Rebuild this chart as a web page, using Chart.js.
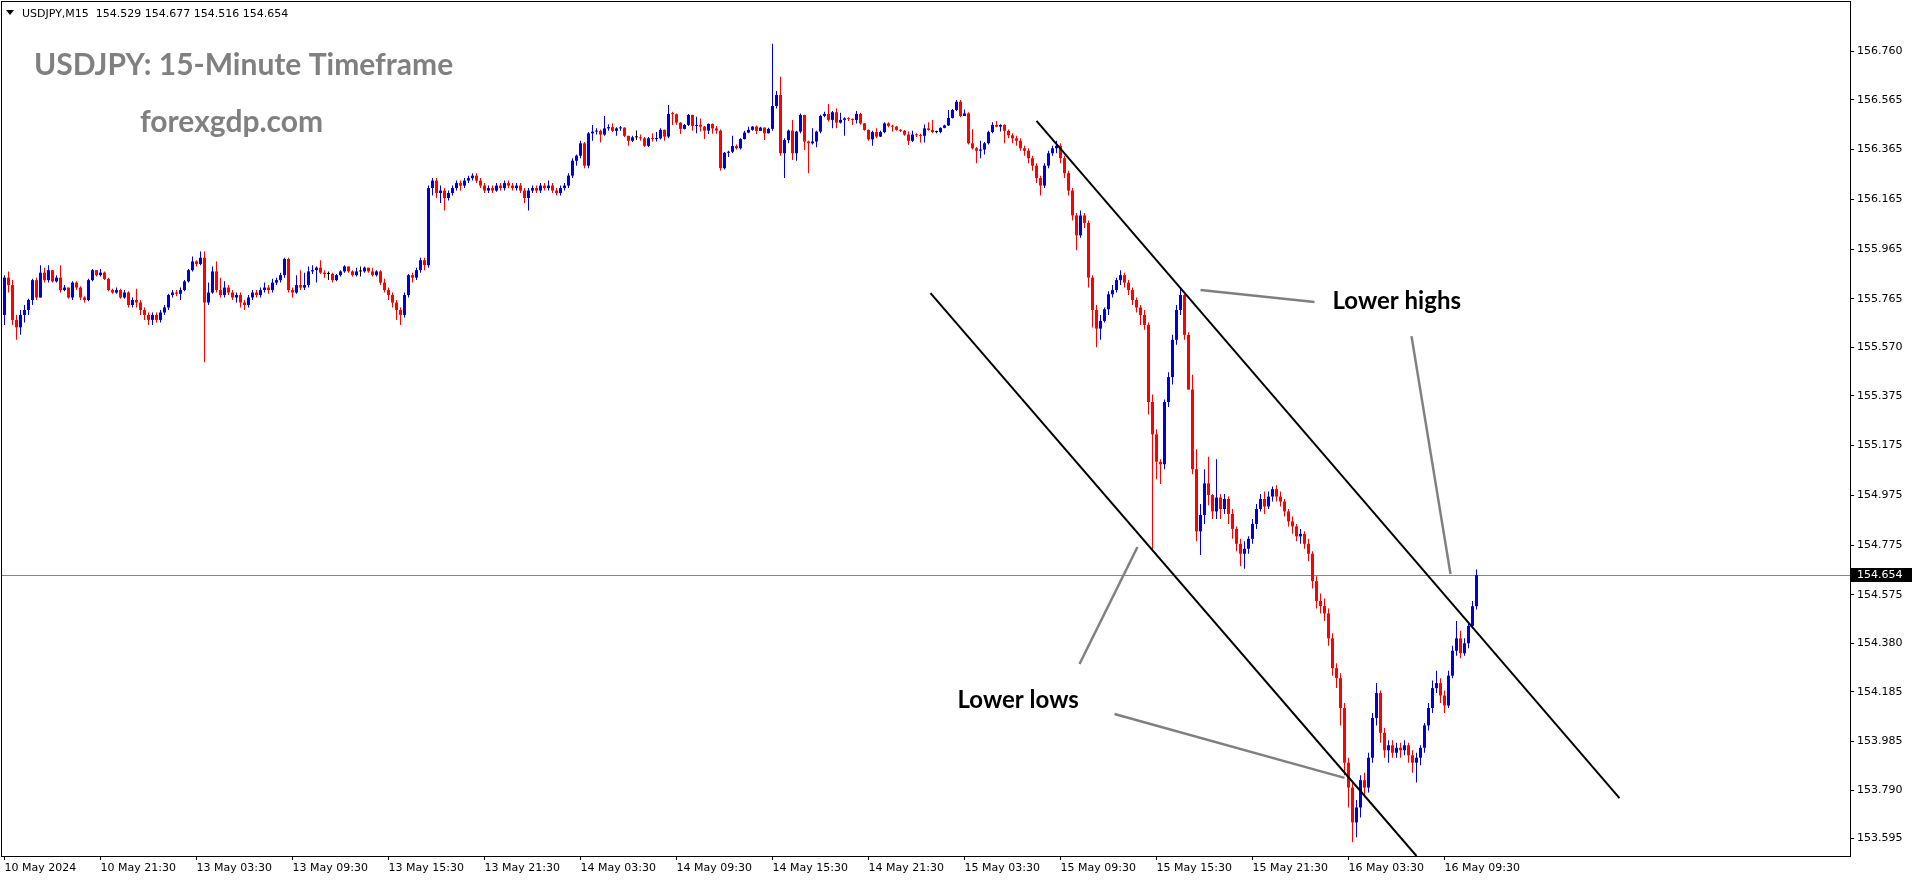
<!DOCTYPE html>
<html>
<head>
<meta charset="utf-8">
<title>USDJPY M15</title>
<script src="https://cdn.jsdelivr.net/npm/chart.js@4.4.1/dist/chart.umd.min.js"></script>
<style>
  html, body { margin: 0; padding: 0; background: #fff; }
  #wrap { width: 1914px; height: 884px; position: relative; }
</style>
</head>
<body>
<div id="wrap"><canvas id="chart"></canvas></div>
<script>
// 15-minute bars, 10 May 15:30 .. 16 May 11:30 (open = previous close)
const firstOpen = 155.70;
const closes = [
  155.85,155.82,155.68,155.65,155.70,155.72,155.76,155.84,155.77,155.87,
  155.84,155.88,155.835,155.85,155.80,155.81,155.77,155.83,155.81,155.77,
  155.76,155.84,155.88,155.86,155.87,155.845,155.80,155.79,155.80,155.77,
  155.79,155.74,155.76,155.75,155.72,155.70,155.68,155.70,155.68,155.71,
  155.73,155.78,155.79,155.785,155.80,155.835,155.88,155.915,155.905,155.93,
  155.75,155.79,155.875,155.80,155.78,155.81,155.79,155.77,155.78,155.75,
  155.74,155.77,155.79,155.78,155.80,155.81,155.80,155.83,155.84,155.86,
  155.925,155.80,155.79,155.82,155.81,155.82,155.875,155.88,155.89,155.87,
  155.865,155.865,155.84,155.86,155.875,155.895,155.875,155.86,155.875,155.875,
  155.89,155.875,155.86,155.875,155.83,155.80,155.78,155.75,155.72,155.70,
  155.78,155.86,155.85,155.88,155.92,155.90,156.21,156.24,156.19,156.20,
  156.17,156.19,156.21,156.23,156.22,156.24,156.25,156.26,156.24,156.22,
  156.20,156.21,156.20,156.22,156.21,156.23,156.22,156.21,156.22,156.20,
  156.17,156.20,156.21,156.20,156.22,156.21,156.22,156.20,156.19,156.21,
  156.22,156.26,156.32,156.34,156.39,156.30,156.43,156.437,156.44,156.425,
  156.45,156.455,156.44,156.45,156.453,156.42,156.40,156.414,156.414,156.41,
  156.38,156.41,156.407,156.41,156.444,156.417,156.508,156.507,156.473,156.448,
  156.464,156.504,156.46,156.464,156.457,156.441,156.468,156.45,156.441,156.29,
  156.352,156.356,156.379,156.37,156.407,156.433,156.444,156.457,156.44,156.453,
  156.43,156.448,156.54,156.584,156.35,156.403,156.441,156.35,156.437,156.504,
  156.397,156.39,156.397,156.437,156.50,156.508,156.484,156.515,156.473,156.484,
  156.49,156.487,156.484,156.508,156.47,156.444,156.406,156.435,156.417,156.435,
  156.47,156.46,156.457,156.444,156.44,156.425,156.40,156.425,156.422,156.42,
  156.45,156.444,156.435,156.435,156.452,156.462,156.492,156.524,156.557,156.50,
  156.51,156.39,156.37,156.36,156.365,156.39,156.435,156.464,156.457,156.464,
  156.44,156.422,156.41,156.40,156.37,156.36,156.33,156.30,156.25,156.22,
  156.30,156.35,156.37,156.38,156.33,156.27,156.20,156.10,156.02,156.10,
  156.07,155.85,155.72,155.645,155.676,155.723,155.783,155.80,155.84,155.86,
  155.83,155.80,155.76,155.73,155.70,155.66,155.35,155.22,155.11,155.10,
  155.35,155.45,155.60,155.72,155.78,155.62,155.40,155.08,154.83,154.896,
  155.023,154.976,154.91,154.966,154.92,154.96,154.90,154.84,154.78,154.74,
  154.76,154.80,154.86,154.92,154.96,154.93,154.97,155.00,154.97,154.95,
  154.91,154.87,154.85,154.81,154.82,154.78,154.74,154.63,154.55,154.53,
  154.50,154.40,154.28,154.24,154.12,153.90,153.80,153.66,153.72,153.83,
  153.80,153.92,154.08,154.18,154.02,153.95,153.97,153.94,153.96,153.95,
  153.97,153.93,153.90,153.92,153.96,154.05,154.12,154.20,154.22,154.17,
  154.13,154.25,154.35,154.40,154.34,154.38,154.45,154.529,154.654
];
const highs = [
  155.86,155.875,155.84,155.70,155.72,155.74,155.765,155.845,155.85,155.90,
  155.89,155.90,155.88,155.86,155.90,155.82,155.81,155.835,155.835,155.815,
  155.775,155.845,155.885,155.88,155.885,155.875,155.85,155.805,155.81,155.805,
  155.80,155.795,155.77,155.805,155.76,155.73,155.71,155.71,155.71,155.72,
  155.74,155.785,155.80,155.80,155.81,155.84,155.885,155.935,155.92,155.955,
  155.955,155.83,155.895,155.915,155.85,155.835,155.82,155.80,155.79,155.79,
  155.76,155.78,155.80,155.80,155.81,155.83,155.82,155.845,155.85,155.87,
  155.93,155.93,155.81,155.86,155.88,155.87,155.895,155.90,155.895,155.92,
  155.88,155.875,155.87,155.865,155.88,155.90,155.895,155.88,155.89,155.895,
  155.895,155.89,155.89,155.88,155.88,155.845,155.81,155.79,155.76,155.73,
  155.79,155.865,155.87,155.89,155.93,155.93,156.22,156.25,156.25,156.22,
  156.21,156.20,156.22,156.24,156.24,156.25,156.26,156.27,156.27,156.25,
  156.23,156.22,156.22,156.23,156.23,156.24,156.24,156.23,156.23,156.23,
  156.21,156.21,156.22,156.22,156.23,156.23,156.24,156.23,156.21,156.22,
  156.23,156.27,156.33,156.345,156.40,156.395,156.435,156.464,156.45,156.445,
  156.50,156.467,156.47,156.455,156.46,156.455,156.42,156.42,156.441,156.425,
  156.415,156.415,156.43,156.435,156.45,156.445,156.544,156.517,156.51,156.475,
  156.468,156.508,156.505,156.497,156.49,156.46,156.47,156.47,156.46,156.445,
  156.355,156.36,156.42,156.385,156.41,156.44,156.457,156.46,156.462,156.457,
  156.455,156.452,156.79,156.60,156.658,156.41,156.445,156.484,156.44,156.51,
  156.505,156.40,156.45,156.44,156.505,156.517,156.548,156.52,156.53,156.513,
  156.495,156.495,156.49,156.52,156.513,156.472,156.445,156.44,156.45,156.44,
  156.475,156.475,156.465,156.46,156.447,156.443,156.437,156.44,156.43,156.428,
  156.466,156.475,156.484,156.44,156.455,156.465,156.524,156.528,156.564,156.564,
  156.526,156.515,156.446,156.375,156.40,156.395,156.44,156.475,156.48,156.467,
  156.467,156.445,156.43,156.42,156.41,156.38,156.37,156.34,156.31,156.26,
  156.31,156.36,156.38,156.40,156.39,156.34,156.28,156.21,156.11,156.12,
  156.11,156.08,155.86,155.74,155.70,155.73,155.795,155.82,155.85,155.88,
  155.87,155.84,155.81,155.77,155.74,155.72,155.67,155.38,155.24,155.12,
  155.36,155.47,155.62,155.74,155.81,155.79,155.63,155.46,155.16,154.94,
  155.08,155.13,154.98,155.12,154.98,154.98,154.97,154.92,154.85,154.80,
  154.79,154.81,154.88,154.94,154.98,154.99,154.99,155.01,155.015,154.99,
  154.96,154.92,154.89,154.86,154.84,154.83,154.80,154.75,154.65,154.58,
  154.56,154.52,154.42,154.30,154.26,154.14,153.92,153.82,153.75,153.85,
  153.86,153.94,154.10,154.22,154.19,154.04,153.99,153.99,153.98,153.98,
  153.99,153.98,153.95,153.94,153.97,154.06,154.14,154.23,154.27,154.24,
  154.19,154.27,154.37,154.47,154.43,154.40,154.46,154.55,154.677
];
const lows = [
  155.66,155.79,155.66,155.60,155.62,155.67,155.70,155.74,155.76,155.77,
  155.83,155.83,155.83,155.83,155.79,155.795,155.765,155.76,155.80,155.76,
  155.75,155.755,155.835,155.855,155.855,155.84,155.795,155.785,155.785,155.765,
  155.765,155.73,155.73,155.73,155.70,155.68,155.66,155.66,155.67,155.67,
  155.70,155.72,155.77,155.775,155.76,155.795,155.83,155.875,155.895,155.90,
  155.51,155.74,155.785,155.79,155.77,155.77,155.78,155.76,155.75,155.73,
  155.72,155.73,155.76,155.77,155.77,155.79,155.785,155.79,155.82,155.83,
  155.85,155.79,155.77,155.785,155.80,155.80,155.81,155.865,155.83,155.865,
  155.85,155.84,155.83,155.835,155.855,155.87,155.87,155.855,155.855,155.855,
  155.87,155.87,155.855,155.855,155.82,155.79,155.76,155.73,155.68,155.66,
  155.69,155.77,155.83,155.84,155.87,155.88,155.89,156.18,156.17,156.15,
  156.12,156.16,156.18,156.20,156.20,156.21,156.23,156.24,156.23,156.21,
  156.19,156.19,156.19,156.195,156.20,156.20,156.21,156.20,156.20,156.19,
  156.15,156.12,156.19,156.19,156.19,156.20,156.20,156.19,156.18,156.18,
  156.20,156.21,156.25,156.30,156.33,156.29,156.29,156.40,156.425,156.393,
  156.42,156.44,156.435,156.42,156.44,156.415,156.38,156.395,156.403,156.40,
  156.375,156.375,156.397,156.397,156.405,156.40,156.41,156.464,156.465,156.427,
  156.445,156.46,156.44,156.43,156.437,156.407,156.427,156.428,156.428,156.28,
  156.285,156.335,156.35,156.365,156.365,156.405,156.43,156.44,156.427,156.44,
  156.403,156.43,156.44,156.53,156.34,156.25,156.39,156.323,156.32,156.43,
  156.363,156.27,156.385,156.374,156.43,156.495,156.478,156.45,156.45,156.47,
  156.42,156.48,156.464,156.47,156.465,156.44,156.40,156.38,156.41,156.415,
  156.43,156.455,156.437,156.44,156.435,156.42,156.383,156.395,156.415,156.393,
  156.393,156.44,156.43,156.43,156.43,156.45,156.46,156.49,156.52,156.495,
  156.50,156.385,156.365,156.31,156.33,156.345,156.385,156.43,156.455,156.437,
  156.39,156.41,156.39,156.38,156.36,156.34,156.31,156.28,156.23,156.18,
  156.21,156.29,156.34,156.35,156.31,156.25,156.18,156.08,155.96,156.01,
  156.05,155.81,155.65,155.57,155.60,155.67,155.70,155.77,155.79,155.82,
  155.81,155.78,155.74,155.71,155.66,155.64,155.30,154.75,155.04,155.02,
  155.08,155.33,155.42,155.58,155.70,155.60,155.40,155.06,154.79,154.735,
  154.86,154.935,154.88,154.88,154.88,154.90,154.86,154.80,154.75,154.69,
  154.68,154.74,154.78,154.84,154.91,154.90,154.92,154.95,154.95,154.93,
  154.89,154.85,154.82,154.79,154.78,154.76,154.71,154.60,154.52,154.50,
  154.47,154.37,154.25,154.20,154.05,153.85,153.72,153.58,153.60,153.68,
  153.76,153.78,153.90,154.05,153.98,153.92,153.90,153.92,153.92,153.92,
  153.93,153.90,153.86,153.82,153.89,153.94,154.03,154.10,154.18,154.14,
  154.10,154.12,154.24,154.33,154.32,154.33,154.36,154.44,154.516
];

// time axis: one label every 24 bars, starting at bar 0
const timeLabels = [
  '10 May 2024','10 May 21:30','13 May 03:30','13 May 09:30','13 May 15:30',
  '13 May 21:30','14 May 03:30','14 May 09:30','14 May 15:30','14 May 21:30',
  '15 May 03:30','15 May 09:30','15 May 15:30','15 May 21:30','16 May 03:30',
  '16 May 09:30'
];
const labelEvery = 24;
const priceTicks = [
  156.760,156.565,156.365,156.165,155.965,155.765,155.570,155.375,155.175,
  154.975,154.775,154.575,154.380,154.185,153.985,153.790,153.595
];
const priceMin = 153.525;
const priceMax = 156.958;

const headerText = 'USDJPY,M15  154.529 154.677 154.516 154.654';
const titleText = 'USDJPY: 15-Minute Timeframe';
const siteText = 'forexgdp.com';

// drawn objects, in [bar, price]
const upperChannel = [[258, 156.480], [403.75, 153.758]];
const lowerChannel = [[231.5, 155.788], [353, 153.525]];
const highsPointers = [
  [[299, 155.800], [327.5, 155.752]],
  [[351.75, 155.615], [361.5, 154.658]]
];
const lowsPointers = [
  [[268.75, 154.297], [283.25, 154.767]],
  [[277.5, 154.096], [335, 153.839]]
];
const highsLabel = { text: 'Lower highs', at: [332, 155.724] };
const lowsLabel = { text: 'Lower lows', at: [238.25, 154.120] };

const opens = closes.map((c, i) => i === 0 ? firstOpen : closes[i - 1]);
const lastClose = closes[closes.length - 1];
const bars = closes.map((_, i) => i);

const UP = '#0000d8', DOWN = '#ff0000', FLAT = '#000000';
function candleColor(i) {
  if (Math.abs(closes[i] - opens[i]) < 1e-9) return FLAT;
  return closes[i] > opens[i] ? UP : DOWN;
}

const axisFont = { family: 'DejaVu Sans', size: 11 };

const overlay = {
  id: 'overlay',
  beforeDatasetsDraw(chart) {
    const { ctx, chartArea: a, scales: { y } } = chart;
    const py = Math.round(y.getPixelForValue(lastClose)) + 0.5;
    ctx.save();
    ctx.strokeStyle = '#778899';
    ctx.lineWidth = 1;
    ctx.beginPath();
    ctx.moveTo(a.left, py);
    ctx.lineTo(a.right, py);
    ctx.stroke();
    ctx.restore();
  },
  afterDatasetsDraw(chart) {
    const { ctx, chartArea: a, scales: { x, y } } = chart;
    const px = p => [x.getPixelForValue(p[0]), y.getPixelForValue(p[1])];
    const seg = (pts, color, w) => {
      const p0 = px(pts[0]), p1 = px(pts[1]);
      ctx.strokeStyle = color;
      ctx.lineWidth = w;
      ctx.beginPath();
      ctx.moveTo(p0[0], p0[1]);
      ctx.lineTo(p1[0], p1[1]);
      ctx.stroke();
    };
    ctx.save();
    ctx.beginPath();
    ctx.rect(a.left, a.top, a.right - a.left, a.bottom - a.top);
    ctx.clip();

    seg(upperChannel, '#000', 2);
    seg(lowerChannel, '#000', 2);
    highsPointers.forEach(s => seg(s, '#808080', 2.5));
    lowsPointers.forEach(s => seg(s, '#808080', 2.5));

    ctx.fillStyle = '#000';
    ctx.font = 'bold 24px Lato';
    ctx.textBaseline = 'alphabetic';
    ctx.textAlign = 'left';
    [highsLabel, lowsLabel].forEach(l => {
      const p = px(l.at);
      ctx.fillText(l.text, p[0], p[1]);
    });

    // watermark title
    ctx.fillStyle = '#808080';
    ctx.font = 'bold 30px Lato';
    ctx.fillText(titleText, 34, 75);
    ctx.fillText(siteText, 140, 132);

    // symbol header
    ctx.fillStyle = '#000';
    ctx.beginPath();
    ctx.moveTo(6, 10); ctx.lineTo(14, 10); ctx.lineTo(10, 15); ctx.closePath();
    ctx.fill();
    ctx.font = '11px "DejaVu Sans"';
    ctx.fillText(headerText, 22, 17);
    ctx.restore();
  },
  afterDraw(chart) {
    const { ctx, chartArea: a, scales: { y } } = chart;
    ctx.save();
    ctx.strokeStyle = '#000';
    ctx.lineWidth = 1;
    ctx.strokeRect(a.left - 0.5, a.top - 0.5, a.right - a.left + 1, a.bottom - a.top + 1);
    const py = Math.round(y.getPixelForValue(lastClose));
    ctx.fillStyle = '#000';
    ctx.fillRect(a.right + 1, py - 7, 61, 14);
    ctx.fillStyle = '#fff';
    ctx.font = '11px "DejaVu Sans"';
    ctx.textBaseline = 'middle';
    ctx.fillText(lastClose.toFixed(3), a.right + 7, py + 0.5);
    ctx.restore();
  }
};

const barsPerPixel = 0.25;
const xMin = -0.625;

new Chart(document.getElementById('chart'), {
  type: 'bar',
  data: {
    datasets: [{
      label: 'wick',
      data: bars.map(i => ({ x: i, y: [lows[i], highs[i]] })),
      backgroundColor: ctx => candleColor(ctx.dataIndex),
      barThickness: 1,
      grouped: false,
      inflateAmount: 0,
      borderWidth: 0,
      order: 2
    }, {
      label: 'body',
      data: bars.map(i => ({ x: i, y: [opens[i], closes[i]] })),
      backgroundColor: ctx => candleColor(ctx.dataIndex),
      barThickness: 3,
      minBarLength: 1,
      grouped: false,
      inflateAmount: 0,
      borderWidth: 0,
      order: 1
    }]
  },
  options: {
    responsive: true,
    maintainAspectRatio: false,
    animation: false,
    devicePixelRatio: 1,
    events: [],
    layout: { padding: { left: 2, top: 2, right: 0, bottom: 0 } },
    plugins: { legend: { display: false }, tooltip: { enabled: false } },
    scales: {
      x: {
        type: 'linear',
        offset: false,
        min: xMin,
        max: xMin + 1848 * barsPerPixel,
        afterBuildTicks: s => {
          s.ticks = timeLabels.map((_, k) => ({ value: k * labelEvery }));
        },
        afterFit: s => { s.height = 28; s.paddingLeft = 0; s.paddingRight = 0; },
        ticks: {
          autoSkip: false,
          maxRotation: 0,
          align: 'start',
          padding: 2,
          color: '#000',
          font: axisFont,
          callback: v => timeLabels[Math.round(v / labelEvery)]
        },
        grid: { offset: false, drawOnChartArea: false, drawTicks: true, tickLength: 4, color: '#000' },
        border: { display: false }
      },
      y: {
        position: 'right',
        min: priceMin,
        max: priceMax,
        afterBuildTicks: s => { s.ticks = priceTicks.map(v => ({ value: v })); },
        afterFit: s => { s.width = 64; s.paddingTop = 0; s.paddingBottom = 0; },
        ticks: {
          autoSkip: false,
          padding: 3,
          color: '#000',
          font: axisFont,
          callback: v => Number(v).toFixed(3)
        },
        grid: { drawOnChartArea: false, drawTicks: true, tickLength: 4, color: '#000' },
        border: { display: false }
      }
    }
  },
  plugins: [overlay]
});
</script>
</body>
</html>
